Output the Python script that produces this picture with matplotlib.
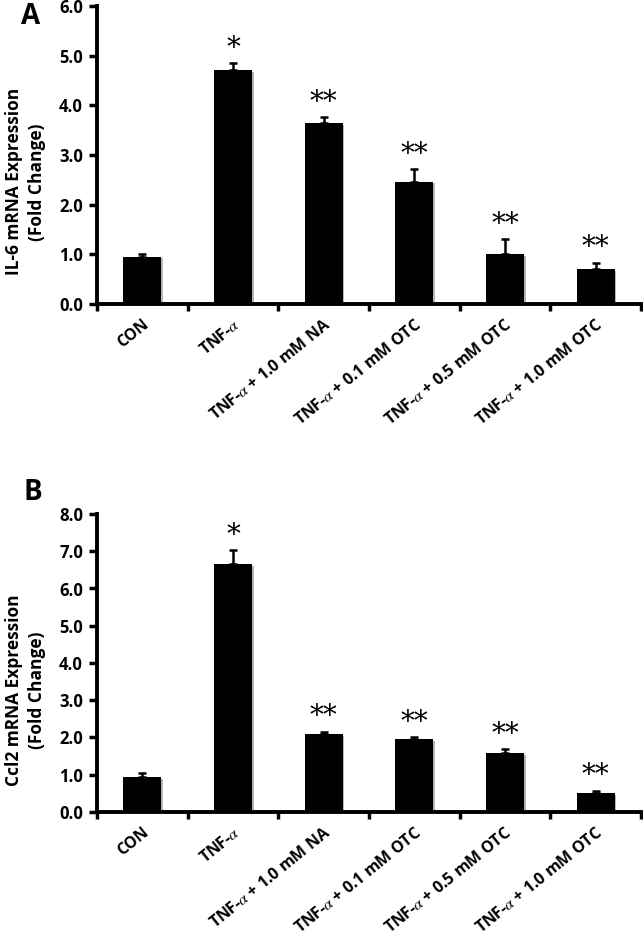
import matplotlib
matplotlib.use("Agg")
import matplotlib.pyplot as plt
import matplotlib.transforms as mtransforms
import numpy as np

plt.rcParams['font.family'] = ['Open Sans', 'DejaVu Sans']
plt.rcParams['mathtext.fontset'] = 'stix'

categories = ["CON", r"TNF-$\alpha$", r"TNF-$\alpha$ + 1.0 mM NA", r"TNF-$\alpha$ + 0.1 mM OTC",
              r"TNF-$\alpha$ + 0.5 mM OTC", r"TNF-$\alpha$ + 1.0 mM OTC"]
il6_mean = [0.95, 4.71, 3.64, 2.46, 1.00, 0.70]
il6_err = [0.05, 0.14, 0.12, 0.26, 0.31, 0.13]
il6_sig = ["", "*", "**", "**", "**", "**"]
ccl2_mean = [0.94, 6.66, 2.09, 1.96, 1.58, 0.51]
ccl2_err = [0.11, 0.37, 0.07, 0.05, 0.11, 0.06]
ccl2_sig = ["", "*", "**", "**", "**", "**"]

fig = plt.figure(figsize=(6.43, 9.38), dpi=100)
W, H = 643, 938

def make_ax(top_px, bottom_px):
    return fig.add_axes([97 / W, 1 - bottom_px / H, 544 / W, (bottom_px - top_px) / H])

axA = make_ax(6, 304)
axB = make_ax(514, 812)

def draw(ax, means, errs, sig, ymax, ylabel):
    x = np.arange(len(means)) + 0.5
    shadow = mtransforms.offset_copy(ax.transData, fig=fig, x=1.6, y=-1.6, units='dots')
    ax.bar(x, means, width=0.42, color='#b5b5b5', zorder=1.5, transform=shadow)
    ax.bar(x, means, width=0.42, color='black', zorder=2)
    ax.errorbar(x, means, yerr=[np.zeros(len(errs)), errs], fmt='none', ecolor='black',
                elinewidth=1.8, capsize=3, capthick=1.8, zorder=1)
    for xi, m, e, s in zip(x, means, errs, sig):
        if s:
            ax.annotate(s, (xi, m + e), xytext=(0, 1), textcoords='offset points',
                        ha='center', va='bottom', fontsize=20, family='DejaVu Serif')
    ax.set_xlim(0, len(means))
    ax.set_ylim(0, ymax)
    ax.set_yticks(np.arange(0, ymax + 0.01, 1.0))
    ax.set_yticklabels([f"{v:.1f}" for v in np.arange(0, ymax + 0.01, 1.0)],
                       fontsize=12, fontweight='bold')
    ax.set_xticks(np.arange(0, len(means) + 1))
    ax.set_xticklabels([])
    ax.set_xticks(x, minor=True)
    labels = ax.set_xticklabels(categories, minor=True, rotation=39, ha='right',
                                rotation_mode='anchor', fontsize=11.5, fontweight='bold')
    for i, lab in enumerate(labels):
        lab.set_transform(lab.get_transform() +
                          mtransforms.ScaledTranslation(-i * 5.3 / 100, 0, fig.dpi_scale_trans))
    ax.tick_params(axis='x', which='minor', length=0, pad=9)
    ax.tick_params(axis='x', which='major', length=5, width=2.5, direction='out')
    ax.tick_params(axis='y', length=6, width=2.5, direction='out', pad=4)
    for sp in ['top', 'right']:
        ax.spines[sp].set_visible(False)
    for sp in ['left', 'bottom']:
        ax.spines[sp].set_linewidth(2.8)
    ax.set_ylabel(ylabel, fontsize=12.5, fontweight='bold', linespacing=1.35)
    ax.yaxis.set_label_coords(-0.094, 0.41)

draw(axA, il6_mean, il6_err, il6_sig, 6.0, "IL-6 mRNA Expression\n(Fold Change)")
draw(axB, ccl2_mean, ccl2_err, ccl2_sig, 8.0, "Ccl2 mRNA Expression\n(Fold Change)")

fig.text(31 / W, 1 - 17 / H, "A", fontsize=20, fontweight='bold', ha='center', va='center')
fig.text(33 / W, 1 - 492 / H, "B", fontsize=20, fontweight='bold', ha='center', va='center')

fig.savefig("out.png", dpi=100)
